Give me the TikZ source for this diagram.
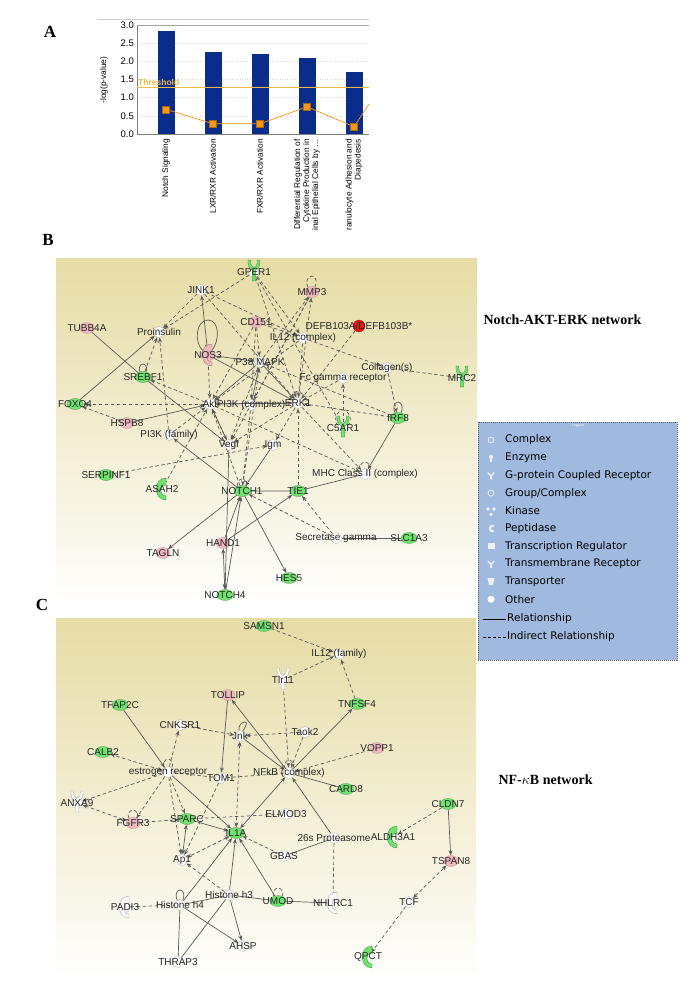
\documentclass[tikz,border=0pt]{standalone}
\usepackage{fontspec}
\setmainfont{Liberation Serif}
\setsansfont{Liberation Sans}
\newfontfamily\legfont{DejaVu Sans}
\usetikzlibrary{arrows.meta,backgrounds,shapes.geometric}
\definecolor{barblue}{RGB}{10,45,140}
\definecolor{thr}{RGB}{240,185,70}
\definecolor{sq}{RGB}{245,150,20}
\definecolor{ngreen}{RGB}{110,225,110}
\definecolor{npink}{RGB}{240,185,190}
\definecolor{nred}{RGB}{235,20,20}
\definecolor{tan}{RGB}{230,220,165}
\definecolor{legblue}{RGB}{160,185,222}
\definecolor{edge}{RGB}{90,90,90}
\tikzset{
 nd/.style={circle,inner sep=0pt,minimum size=11pt,draw=gray!60,line width=0.3pt},
 wt/.style={nd,fill=white},
 gn/.style={nd,ellipse,minimum width=16pt,minimum height=11pt,fill=ngreen,draw=ngreen!70!black},
 pk/.style={nd,ellipse,minimum width=14pt,minimum height=11pt,fill=npink,draw=npink!80!black},
 rd/.style={nd,minimum size=12pt,fill=nred,draw=nred!80!black},
 lab/.style={font=\sffamily\fontsize{10}{11}\selectfont,inner sep=0pt,text=black!85},
 e/.style={draw=edge,line width=0.7pt,-{Stealth[length=5pt,width=4pt]}},
 eb/.style={e,{Stealth[length=5pt,width=4pt]}-{Stealth[length=5pt,width=4pt]}},
 en/.style={draw=edge,line width=0.7pt},
 d/.style={dash pattern=on 3.5pt off 2.5pt},
 cat/.style={rotate=90,anchor=east,align=right,font=\sffamily\fontsize{8.3}{9}\selectfont,inner sep=0pt},
 leg/.style={anchor=west,font=\legfont\fontsize{10.5}{12}\selectfont,inner sep=0pt},
 panel/.style={font=\bfseries\fontsize{17}{18}\selectfont},
 nettitle/.style={font=\bfseries\fontsize{14}{15}\selectfont,anchor=west}
}
\newcommand{\recep}[3]{\fill[#3,draw=#3!60!black,line width=0.3pt]
  (#1-1.8,#2+9) -- (#1-1.8,#2-2) .. controls (#1-6,#2-4) and (#1-6,#2-8) .. (#1-6,#2-12) -- (#1-3.5,#2-12) .. controls (#1-3.5,#2-7) and (#1-2,#2-5) .. (#1,#2-4)
  .. controls (#1+2,#2-5) and (#1+3.5,#2-7) .. (#1+3.5,#2-12) -- (#1+6,#2-12) .. controls (#1+6,#2-8) and (#1+6,#2-4) .. (#1+1.8,#2-2) -- (#1+1.8,#2+9) -- cycle;}
\newcommand{\pept}[3]{\fill[#3,draw=#3!60!black,line width=0.3pt]
  (#1+4,#2-11) .. controls (#1-9,#2-11) and (#1-9,#2+11) .. (#1+4,#2+11) -- (#1+4,#2+7) .. controls (#1-3,#2+7) and (#1-3,#2-4) .. (#1+4,#2-4) -- cycle;}
\begin{document}
\begin{tikzpicture}[x=1pt,y=-1pt]
\useasboundingbox (0,0) rectangle (700,1000);
\fill[white] (0,0) rectangle (700,1000);
% ================= Panel A =================
\node[panel] (pA) at (50,32) {A};
\draw[gray!40] (97,19) -- (369,19);
\foreach \v in {0.5,1.0,1.5,2.0,2.5}{\draw[gray!30,dash pattern=on 1pt off 1.5pt] (137,134-36.3*\v) -- (369,134-36.3*\v);}
\draw[gray!70] (137,25) -- (369,25);
\draw[gray] (137,25) -- (137,134) -- (369,134);
\foreach \v/\t in {0/0.0,0.5/0.5,1/1.0,1.5/1.5,2/2.0,2.5/2.5,3/3.0}{
  \node[anchor=east,font=\sffamily\fontsize{9.5}{10}\selectfont,inner sep=0pt] at (134,134-36.3*\v) {\t};}
\node[rotate=90,font=\sffamily\fontsize{8.3}{9}\selectfont] (ylab) at (104,80) {-log(p-value)};
\foreach \x/\h in {166/2.85,213/2.27,260/2.2,307/2.1,354/1.7}{
  \fill[barblue] (\x-8.5,134) rectangle (\x+8.5,134-36.3*\h);}
\draw[thr,line width=0.6pt] (137,87) -- (369,87);
\node[anchor=west,text=thr,font=\sffamily\bfseries\fontsize{8.5}{9}\selectfont,inner sep=0pt] (thl) at (138,82) {Threshold};
\draw[sq,line width=0.7pt] (166,134-36.3*0.68) -- (213,134-36.3*0.28) -- (260,134-36.3*0.28) -- (307,134-36.3*0.75) -- (354,134-36.3*0.2) -- (369,104);
\foreach \x/\r in {166/0.68,213/0.28,260/0.28,307/0.75,354/0.2}{
  \fill[sq,draw=sq!70!black,line width=0.2pt] (\x-3.5,134-36.3*\r-3.5) rectangle (\x+3.5,134-36.3*\r+3.5);}
\begin{scope}
\clip (100,136) rectangle (400,230);
\node[cat] (c1) at (166,139) {Notch Signaling};
\node[cat] (c2) at (213,139) {LXR/RXR Activation};
\node[cat] (c3) at (260,139) {FXR/RXR Activation};
\node[cat] (c4) at (307,139) {Differential Regulation of\\Cytokine Production in\\Intestinal Epithelial Cells by \dots};
\node[cat] (c5) at (354,139) {Granulocyte Adhesion and\\Diapedesis};
\end{scope}
% ================= Panel B =================
\node[panel] (pB) at (48,240) {B};
\shade[top color=tan,bottom color=white!96!tan] (56,258) rectangle (477,598);
\node[nettitle] (tB) at (480,320) {Notch-AKT-ERK network};
\foreach \n/\x/\y/\s in {
 gper/254/272/wt, jink/201/290/wt, mmp/312/292/pk, cd/256/322/pk, defb/359/326/rd,
 tubb/87/328/pk, proi/159/332/wt, ilc/303/338/wt, nos/208/355/pk, p38/260/362/wt,
 coll/387/368/wt, mrc/462/378/wt, fcg/343/378/wt, sreb/143/377/gn, foxo/75/404/gn,
 akt/210/404/wt, pik/251/405/wt, erk/298/403/wt, hspb/127/423/pk, irf/398/418/gn,
 c5ar/343/428/wt, pif/169/435/wt, vegf/229/445/wt, igm/273/445/wt, serp/106/475/gn,
 mhc/365/474/wt, asah/162/489/wt, notch1/242/491/gn, tie/298/491/gn, sec/336/538/wt,
 slc/409/538/gn, hand/223/543/pk, tagln/163/553/pk, hes/289/578/gn, notch4/225/595/gn}
 {\node[\s] (\n) at (\x,\y) {};}
% edges B
\draw[en] (tubb) -- (sreb);
\draw[e] (sreb) -- (vegf);
\draw[e] (foxo) -- (proi);
\draw[eb] (jink) -- (nos);
\draw[en] (nos) to[out=140,in=180,looseness=1] (208,320) to[out=0,in=50,looseness=1] (nos);
\draw[e] (nos) -- (p38);
\draw[e] (nos) -- (erk);
\draw[e] (p38) -- (akt);
\draw[e] (p38) -- (erk);
\draw[e] (akt) -- (erk);
\draw[e] (hspb) -- (akt);
\draw[e] (notch1) -- (pif);
\draw[e] (hand) -- (notch1);
\draw[e] (notch4) -- (notch1);
\draw[e] (notch1) -- (tagln);
\draw[e] (hand) -- (tie);
\draw[eb] (hand) -- (notch4);
\draw[e] (vegf) -- (notch4);
\draw[e] (notch1) -- (hes);
\draw[en] (notch1) -- (tie) -- (mhc);
\draw[e] (irf) -- (mhc);
\draw[en] (sec) -- (slc);
\draw[e] (igm) -- (notch1);
\draw[en] (irf) to[out=60,in=0] (398,402) to[out=180,in=120] (irf);
\draw[en] (sreb) to[out=120,in=180] (143,364) to[out=0,in=60] (sreb);
\draw[e] (akt) -- (vegf);
\draw[e] (erk) -- (akt);
\draw[e] (pik) -- (p38);
% dashed B
\foreach \a/\b in {gper/proi, gper/ilc, gper/c5ar, jink/ilc, jink/proi, cd/p38, cd/akt, cd/ilc, p38/mmp, erk/mmp,
 ilc/coll, defb/erk, fcg/erk, c5ar/fcg, irf/p38, akt/foxo, akt/sreb, sreb/proi, hspb/foxo, asah/akt, serp/igm,
 tie/erk, notch1/akt, notch1/p38, vegf/akt, erk/vegf, erk/igm, sec/notch1, sec/tie, erk/mhc, akt/mhc, pif/proi,
 pif/akt, cd/pik, ilc/erk, mmp/vegf, ilc/akt, irf/erk, nos/akt, p38/vegf, pik/notch1, jink/erk, coll/irf, gper/erk, mmp/pik}
 {\draw[e,d] (\a) -- (\b);}
\draw[d,en] (coll) -- (mrc);
\draw[en,d] (mmp) to[out=130,in=180] (312,276) to[out=0,in=60] (mmp);
\draw[en,d] (c5ar) to[out=150,in=180] (343,410) to[out=0,in=30] (c5ar);
\draw[en,d] (mhc) to[out=140,in=180] (365,462) to[out=0,in=40] (mhc);
\draw[en,d] (erk) to[out=130,in=180] (298,391) to[out=0,in=50] (erk);
\draw[en,d] (notch1) to[out=130,in=180] (242,479) to[out=0,in=50] (notch1);
% special shapes B
\recep{254}{272}{ngreen} \recep{462}{378}{ngreen} \recep{343}{428}{ngreen}
\pept{162}{489}{ngreen} \pept{208}{355}{npink}
\foreach \n/\t in {gper/GPER1, jink/JINK1/2, mmp/MMP3, cd/CD151, defb/{DEFB103A/DEFB103B*}, tubb/TUBB4A,
 proi/Proinsulin, ilc/IL12 (complex), nos/NOS3, p38/P38 MAPK, coll/Collagen(s), mrc/MRC2, fcg/Fc gamma receptor,
 sreb/SREBF1, foxo/FOXO4, akt/Akt, pik/PI3K (complex), erk/ERK1/2, hspb/HSPB8, irf/IRF8, c5ar/C5AR1,
 pif/PI3K (family), vegf/Vegf, igm/Igm, serp/SERPINF1, mhc/MHC Class II (complex), asah/ASAH2, notch1/NOTCH1,
 tie/TIE1, sec/Secretase gamma, slc/SLC1A3, hand/HAND1, tagln/TAGLN, hes/HES5, notch4/NOTCH4}
 {\node[lab] at (\n) {\t};}
% ================= Legend =================
\draw[gray!70!black,dash pattern=on 1pt off 1pt,fill=legblue] (478,422) rectangle (677,660);
\node[text=white,font=\sffamily\fontsize{3.5}{4}\selectfont] (lg) at (578,425.5) {Legend};
\foreach \i/\t in {0/Complex,1/Enzyme,2/G-protein Coupled Receptor,3/{Group/Complex},4/Kinase,5/Peptidase,6/Transcription Regulator,7/Transmembrane Receptor,8/Transporter,9/Other}
 {\node[leg] at (505,440+17.7*\i) {\t};}
\foreach \i in {0,3}{\draw[white!75!legblue,line width=0.8pt] (491,440+17.7*\i) circle (3pt);}
\fill[white!80!legblue] (491,456.7) circle (2pt) (490,458) rectangle (492,462);
\foreach \i in {2,7}{\fill[white!80!legblue] (488,440+17.7*\i-3.5) -- (491,440+17.7*\i-0.5) -- (494,440+17.7*\i-3.5) -- (494.5,440+17.7*\i-2) -- (492,440+17.7*\i+0.5) -- (492,440+17.7*\i+4) -- (490,440+17.7*\i+4) -- (490,440+17.7*\i+0.5) -- (487.5,440+17.7*\i-2) -- cycle;}
\fill[white!80!legblue] (488,509) circle (1.8pt) (494,509) circle (1.8pt) (491,514.5) circle (1.8pt);
\fill[white!80!legblue] (494,525) .. controls (487,523) and (487,534) .. (494,532) -- (494,530.5) .. controls (490,531) and (490,526) .. (494,526.5) -- cycle;
\fill[white!80!legblue] (487.5,543.2) rectangle (494.5,549.2);
\fill[white!80!legblue] (487.5,578) -- (494.5,578) -- (493,585) -- (489,585) -- cycle;
\fill[white] (491,599.3) circle (3.5pt);
\coordinate (r1) at (483,619); \coordinate (r2) at (506,619);
\draw[black,line width=0.7pt] (r1) -- (r2);
\node[leg] at (507,619) {Relationship};
\coordinate (r3) at (483,637); \coordinate (r4) at (506,637);
\draw[black,line width=0.7pt,dash pattern=on 3pt off 2pt] (r3) -- (r4);
\node[leg] at (507,637) {Indirect Relationship};
% ================= Panel C =================
\node[panel] (pC) at (42,605) {C};
\shade[top color=tan,bottom color=white!96!tan] (56,618) rectangle (476,972);
\node[nettitle] (tC) at (495,780) {NF-$\kappa$B network};
\foreach \n/\x/\y/\s in {
 samsn/264/626/gn, ilf/339/654/wt, tlr/283/680/wt, tollip/228/695/pk, tfap/120/705/gn, tnfsf/357/704/gn,
 cnk/180/725/wt, jnk/240/736/wt, taok/305/732/wt, calb/103/752/gn, vopp/377/748/pk, esr/168/772/wt,
 tom/221/778/wt, nfkb/289/773/wt, card/346/789/gn, anxa/77/803/wt, cldn/448/804/gn, elmod/286/814/wt,
 fgfr/133/823/pk, sparc/187/819/gn, ilia/236/833/gn, prot/334/838/wt, aldh/393/837/wt, ap1/182/860/wt,
 gbas/284/856/wt, tspan/451/861/pk, hh3/229/895/wt, umod/278/901/gn, nhl/333/903/wt, tcf/409/902/wt,
 padi/125/907/wt, hh4/180/905/wt, ahsp/243/946/wt, thrap/178/962/wt, qpct/368/957/wt}
 {\node[\s] (\n) at (\x,\y) {};}
% solid C
\draw[e] (jnk) -- (nfkb);
\draw[en] (jnk) to[out=60,in=0] (245,722) to[out=180,in=100] (jnk);
\draw[e] (tollip) -- (tom);
\draw[e] (nfkb) -- (tollip);
\draw[e] (nfkb) -- (tnfsf);
\draw[en] (card) -- (nfkb);
\draw[e] (tfap) -- (esr);
\draw[e] (esr) -- (ilia);
\draw[eb] (sparc) -- (ap1);
\draw[e] (sparc) -- (ilia);
\draw[eb] (ilia) -- (nfkb);
\draw[e] (prot) -- (nfkb);
\draw[en] (prot) -- (gbas);
\draw[e] (cldn) -- (tspan);
\draw[e] (hh3) -- (ilia);
\draw[e] (hh4) -- (ilia);
\draw[e] (umod) -- (ilia);
\draw[en] (hh3) -- (umod) -- (nhl);
\draw[en] (hh4) -- (hh3);
\draw[en] (hh4) to[out=120,in=180] (180,890) to[out=0,in=60] (hh4);
\draw[e] (hh4) -- (ahsp);
\draw[e] (hh3) -- (ahsp);
\draw[en] (thrap) -- (hh4);
\draw[en] (thrap) -- (hh3);
% dashed C
\foreach \a/\b in {samsn/ilf, tlr/ilf, tnfsf/ilf, tlr/nfkb, taok/jnk, taok/nfkb, cnk/jnk, esr/cnk, vopp/nfkb,
 esr/anxa, esr/fgfr, esr/sparc, esr/ap1, gbas/ilia, cldn/aldh, tcf/qpct, tom/ap1, hh3/ap1, fgfr/sparc}
 {\draw[e,d] (\a) -- (\b);}
\foreach \a/\b in {jnk/ilia, esr/calb, anxa/fgfr, ilia/ap1, tcf/tspan}{\draw[eb,d] (\a) -- (\b);}
\draw[en,d] (tom) -- (nfkb); \draw[en,d] (esr) -- (tom); \draw[en,d] (elmod) -- (sparc);
\draw[en,d] (prot) -- (nhl);
\draw[en,d] (padi) -- (hh4);
\draw[en,d] (nfkb) to[out=130,in=180] (289,760) to[out=0,in=50] (nfkb);
\draw[en,d] (esr) to[out=130,in=180] (168,759) to[out=0,in=50] (esr);
\draw[en,d] (fgfr) to[out=130,in=180] (133,810) to[out=0,in=50] (fgfr);
\draw[en,d] (umod) to[out=130,in=180] (278,888) to[out=0,in=50] (umod);
% special shapes C
\recep{283}{680}{white} \recep{77}{803}{white}
\pept{393}{837}{ngreen} \pept{368}{957}{ngreen} \pept{333}{903}{white} \pept{125}{907}{white}
\foreach \n/\t in {samsn/SAMSN1, ilf/IL12 (family), tlr/Tlr11, tollip/TOLLIP, tfap/TFAP2C, tnfsf/TNFSF4,
 cnk/CNKSR1, jnk/Jnk, taok/Taok2, calb/CALB2, vopp/VOPP1, esr/estrogen receptor, tom/TOM1, nfkb/NFkB (complex),
 card/CARD8, anxa/ANXA9, cldn/CLDN7, elmod/ELMOD3, fgfr/FGFR3, sparc/SPARC, ilia/IL1A, prot/26s Proteasome,
 aldh/ALDH3A1, ap1/Ap1, gbas/GBAS, tspan/TSPAN8, hh3/Histone h3, umod/UMOD, nhl/NHLRC1, tcf/TCF,
 padi/PADI3, hh4/Histone h4, ahsp/AHSP, thrap/THRAP3, qpct/QPCT}
 {\node[lab] at (\n) {\t};}
\end{tikzpicture}
\end{document}
